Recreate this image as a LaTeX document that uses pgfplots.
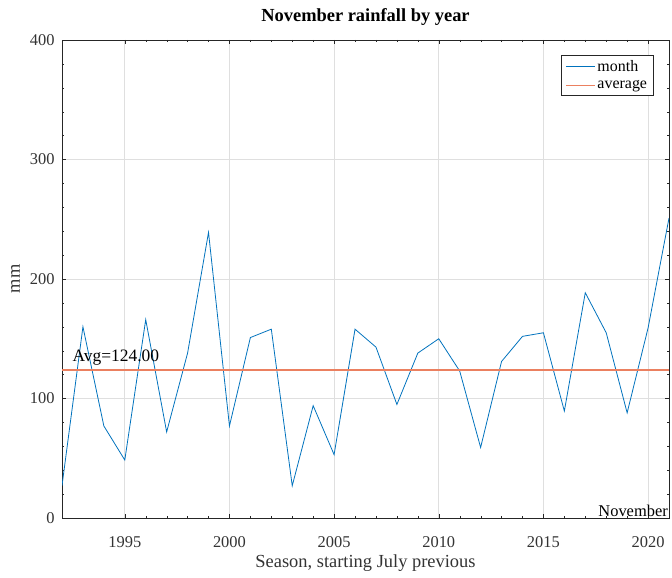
\documentclass[border=0pt]{standalone}
\usepackage{fontspec}
\setmainfont{Liberation Serif}
\usepackage{pgfplots}
\pgfplotsset{compat=1.18}
\definecolor{mblue}{RGB}{0,114,189}
\definecolor{avgcolor}{HTML}{EB8060}
\begin{document}
\begin{tikzpicture}[x=1bp,y=1bp]
\path[use as bounding box] (-62bp,-60bp) rectangle (610bp,518bp);
\begin{axis}[
  at={(0,0)}, anchor=south west,
  scale only axis, width=607bp, height=478bp,
  xmin=1992, xmax=2021, ymin=0, ymax=400,
  xtick={1995,2000,2005,2010,2015,2020},
  ytick={0,100,200,300,400},
  minor x tick num=4, minor y tick num=4,
  tick align=inside,
  major tick length=4bp, minor tick length=2bp,
  grid=major, major grid style={gray!25, line width=0.6pt},
  axis line style={black!85, line width=0.6pt},
  tick style={black!85},
  /pgf/number format/assume math mode=true,
  /pgf/number format/1000 sep={},
  ticklabel style={font=\fontsize{16.5}{18}\selectfont, text=black!80},
  xticklabel style={yshift=-15bp},
  yticklabel style={xshift=-4bp},
  xlabel={Season, starting July previous},
  ylabel={mm},
  xlabel style={font=\fontsize{18.5}{20}\selectfont, text=black!80, yshift=0bp},
  ylabel style={font=\fontsize{18.5}{20}\selectfont, text=black!80, yshift=3bp},
  title={\textbf{November rainfall by year}},
  title style={font=\fontsize{18.5}{20}\selectfont, yshift=5bp},
  legend style={at={(0.974,0.969)}, anchor=north east, font=\fontsize{16}{17}\selectfont, draw=black!85, inner xsep=4pt, inner ysep=3pt, row sep=4pt},
  legend cell align=left,
  legend image code/.code={\draw[#1] (0cm,0cm) -- (1cm,0cm);},
]
\addplot[color=mblue, line width=0.8pt] coordinates {
(1992,27) (1993,160) (1994,77) (1995,48.5) (1996,166) (1997,72) (1998,138) (1999,239) (2000,77) (2001,151)
(2002,158) (2003,27) (2004,94) (2005,53) (2006,158) (2007,143) (2008,95) (2009,138) (2010,150) (2011,123)
(2012,59) (2013,131) (2014,152) (2015,155) (2016,89.5) (2017,188.5) (2018,155) (2019,88) (2020,159) (2021,251)
};
\addlegendentry{month}
\addplot[color=avgcolor, line width=1.6pt] coordinates {(1992,124) (2021,124)};
\addlegendentry{average}
\node[anchor=south west, font=\fontsize{17.5}{19}\selectfont, inner sep=1pt] at (axis cs:1992.45,127) {Avg=124.00};
\node[anchor=south east, font=\fontsize{16.5}{18}\selectfont, inner sep=1pt] at (axis cs:2021,0.5) {November};
\end{axis}
\end{tikzpicture}
\end{document}
